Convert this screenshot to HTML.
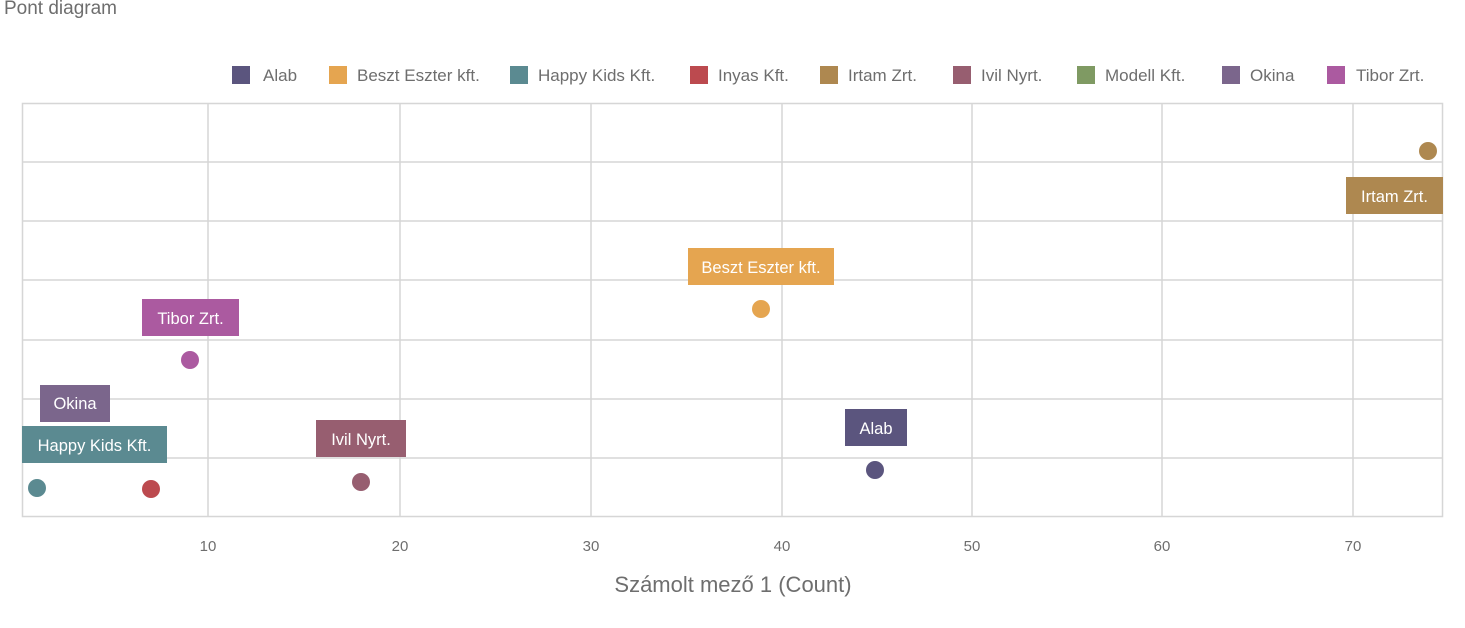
<!DOCTYPE html>
<html><head><meta charset="utf-8"><style>
body{margin:0;background:#fff;width:1465px;height:623px;overflow:hidden;font-family:"Liberation Sans",sans-serif}
</style></head><body>
<svg width="1465" height="623" xmlns="http://www.w3.org/2000/svg" font-family="Liberation Sans, sans-serif">
<text x="4" y="14" font-size="19" fill="#6e6e6e">Pont diagram</text>
<g font-size="17" fill="#6e6e6e">
<rect x="232" y="66" width="18" height="18" fill="#5b557e"/><text x="263" y="81">Alab</text>
<rect x="329" y="66" width="18" height="18" fill="#e5a550"/><text x="357" y="81">Beszt Eszter kft.</text>
<rect x="510" y="66" width="18" height="18" fill="#5b8a91"/><text x="538" y="81">Happy Kids Kft.</text>
<rect x="690" y="66" width="18" height="18" fill="#bc4a4f"/><text x="718" y="81">Inyas Kft.</text>
<rect x="820" y="66" width="18" height="18" fill="#ae8850"/><text x="848" y="81">Irtam Zrt.</text>
<rect x="953" y="66" width="18" height="18" fill="#975e70"/><text x="981" y="81">Ivil Nyrt.</text>
<rect x="1077" y="66" width="18" height="18" fill="#7f9a63"/><text x="1105" y="81">Modell Kft.</text>
<rect x="1222" y="66" width="18" height="18" fill="#7b668c"/><text x="1250" y="81">Okina</text>
<rect x="1327" y="66" width="18" height="18" fill="#ab5aa0"/><text x="1356" y="81">Tibor Zrt.</text>
</g>
<g stroke="#d6d6d6" stroke-width="1.5" fill="none">
<rect x="22.5" y="103.5" width="1420" height="413"/>
<path d="M22 162H1443M22 221H1443M22 280H1443M22 340H1443M22 399H1443M22 458H1443"/>
<path d="M208 103V516M400 103V516M591 103V516M782 103V516M972 103V516M1162 103V516M1353 103V516"/>
</g>
<g font-size="15" fill="#6e6e6e" text-anchor="middle">
<text x="208" y="551">10</text><text x="400" y="551">20</text><text x="591" y="551">30</text><text x="782" y="551">40</text><text x="972" y="551">50</text><text x="1162" y="551">60</text><text x="1353" y="551">70</text>
</g>
<text x="733" y="592" font-size="22" fill="#6e6e6e" text-anchor="middle">Számolt mező 1 (Count)</text>
<circle cx="37" cy="488" r="9" fill="#5b8a91"/>
<circle cx="151" cy="489" r="9" fill="#bc4a4f"/>
<circle cx="361" cy="482" r="9" fill="#975e70"/>
<circle cx="190" cy="360" r="9" fill="#ab5aa0"/>
<circle cx="761" cy="309" r="9" fill="#e5a550"/>
<circle cx="875" cy="470" r="9" fill="#5b557e"/>
<circle cx="1428" cy="151" r="9" fill="#ae8850"/>
<g font-size="16.5" fill="#fff" text-anchor="middle">
<rect x="40" y="385" width="70" height="37" fill="#7b668c"/><text x="75" y="409">Okina</text>
<rect x="22" y="426" width="145" height="37" fill="#5b8a91"/><text x="94.5" y="451">Happy Kids Kft.</text>
<rect x="316" y="420" width="90" height="37" fill="#975e70"/><text x="361" y="445">Ivil Nyrt.</text>
<rect x="142" y="299" width="97" height="37" fill="#ab5aa0"/><text x="190.5" y="324">Tibor Zrt.</text>
<rect x="688" y="248" width="146" height="37" fill="#e5a550"/><text x="761" y="273">Beszt Eszter kft.</text>
<rect x="845" y="409" width="62" height="37" fill="#5b557e"/><text x="876" y="434">Alab</text>
<rect x="1346" y="177" width="97" height="37" fill="#ae8850"/><text x="1394.5" y="202">Irtam Zrt.</text>
</g>
</svg>
</body></html>
